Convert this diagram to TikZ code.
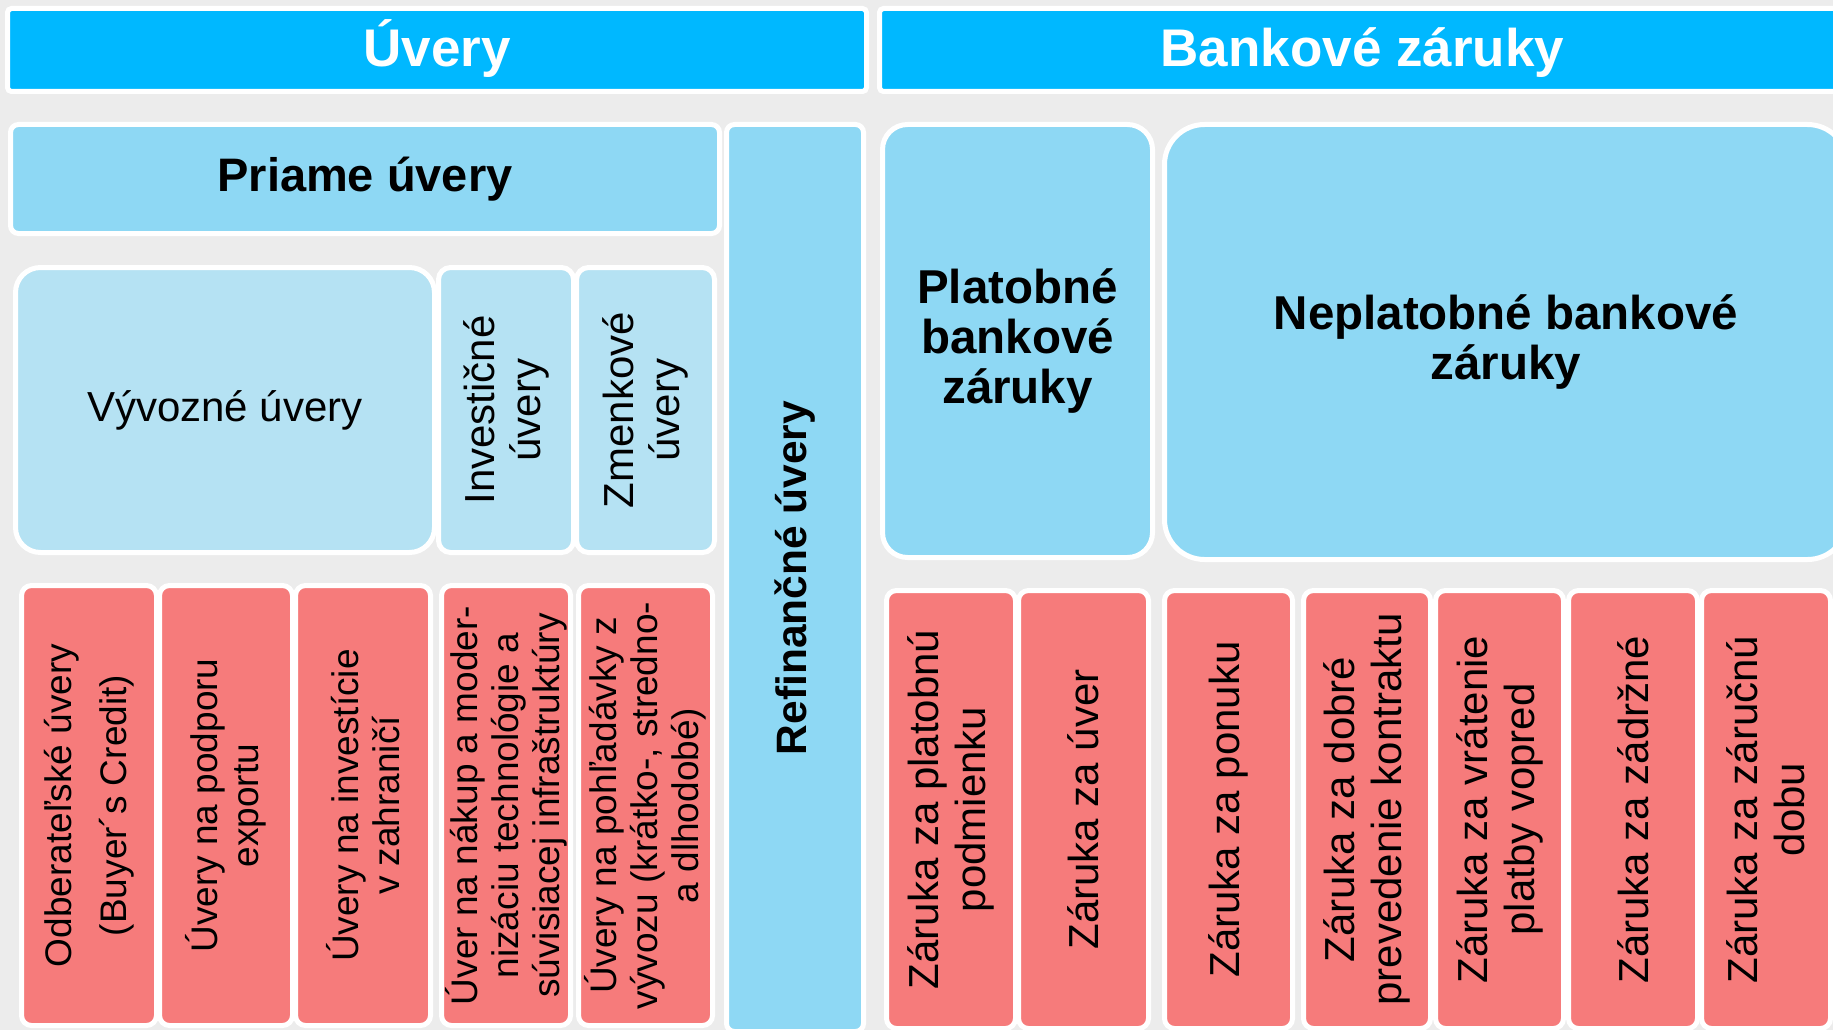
\documentclass[tikz,border=0pt]{standalone}
\usepackage{fontspec}
\setmainfont{Liberation Sans}
\definecolor{headblue}{HTML}{00B8FF}
\definecolor{boxblue}{HTML}{8ED8F4}
\definecolor{paleblue}{HTML}{B5E2F3}
\definecolor{boxred}{HTML}{F67B7B}
\definecolor{backgray}{HTML}{ECECEC}
\begin{document}
\begin{tikzpicture}[x=1pt, y=-1pt, inner sep=0pt,
box node/.style={draw=white, line width=5pt, align=center, rounded corners=#1},
head node/.style={box node=4pt, fill=headblue, text=white, text height=44pt, text depth=10pt, font=\fontsize{53}{60}\selectfont\bfseries},
blue node/.style={box node=#1, fill=boxblue, font=\fontsize{47.5}{50}\selectfont\bfseries},
pale node/.style={box node=#1, fill=paleblue, font=\fontsize{42}{46}\selectfont},
red node/.style={box node=10pt, fill=boxred, rotate=90, minimum width=440, font=\fontsize{37}{41}\selectfont},
zaruka node/.style={red node, minimum width=438, font=\fontsize{42}{47}\selectfont}]
\useasboundingbox (0,0) rectangle (1833,1030);
\fill[backgray] (0,0) rectangle (1833,1030);
% headers
\node[head node, minimum width=859, minimum height=83] (uvery) at (437,50) {Úvery};
\node[head node, minimum width=966, minimum height=83] (zaruky) at (1362.5,50) {Bankové záruky};
% uvery
\begin{scope}
\node[blue node=8pt, minimum width=709, minimum height=109, font=\fontsize{47}{50}\selectfont\bfseries] (priame) at (365,179) {Priame úvery};
\node[blue node=8pt, rotate=90, minimum width=907, minimum height=137, font=\fontsize{42.5}{46}\selectfont\bfseries] (refin) at (795,578) {Refinančné úvery};
\node[pale node=25pt, minimum width=419, minimum height=285] (vyvozne) at (225,410) {Vývozné úvery};
\node[pale node=12pt, rotate=90, minimum width=285, minimum height=135] (invest) at (506,410) {Investičné\\úvery};
\node[pale node=12pt, rotate=90, minimum width=285, minimum height=138] (zmenk) at (645.5,410) {Zmenkové\\úvery};
\node[red node, minimum height=135, font=\fontsize{37}{55}\selectfont] (odber) at (89,805.5) {Odberateľské úvery\\(Buyer´s Credit)};
\node[red node, minimum height=133] (podpora) at (226,805.5) {Úvery na podporu\\exportu};
\node[red node, minimum height=135] (investicie) at (363,805.5) {Úvery na investície\\v zahraničí};
\node[red node, minimum height=129] (nakup) at (506,805.5) {Úver na nákup a moder-\\nizáciu technológie a\\súvisiacej infraštruktúry};
\node[red node, minimum height=134] (pohladavky) at (645.5,805.5) {Úvery na pohľadávky z\\vývozu (krátko-, stredno-\\a dlhodobé)};
\end{scope}
% bankove zaruky
\begin{scope}
\node[blue node=25pt, minimum width=270, minimum height=433] (platob) at (1017.5,341) {Platobné\\bankové\\záruky};
\node[blue node=40pt, minimum width=683, minimum height=435] (neplat) at (1506,342) {Neplatobné bankové\\záruky};
\node[zaruka node, minimum height=129] (z1) at (951,809.5) {Záruka za platobnú\\podmienku};
\node[zaruka node, minimum height=130] (z2) at (1083.5,809.5) {Záruka za úver};
\node[zaruka node, minimum height=128] (z3) at (1228.5,809.5) {Záruka za ponuku};
\node[zaruka node, minimum height=127] (z4) at (1367,809.5) {Záruka za dobré\\prevedenie kontraktu};
\node[zaruka node, minimum height=128] (z5) at (1499.5,809.5) {Záruka za vrátenie\\platby vopred};
\node[zaruka node, minimum height=129] (z6) at (1633,809.5) {Záruka za zádržné};
\node[zaruka node, minimum height=129] (z7) at (1766,809.5) {Záruka za záručnú\\dobu};
\end{scope}
\end{tikzpicture}
\end{document}
